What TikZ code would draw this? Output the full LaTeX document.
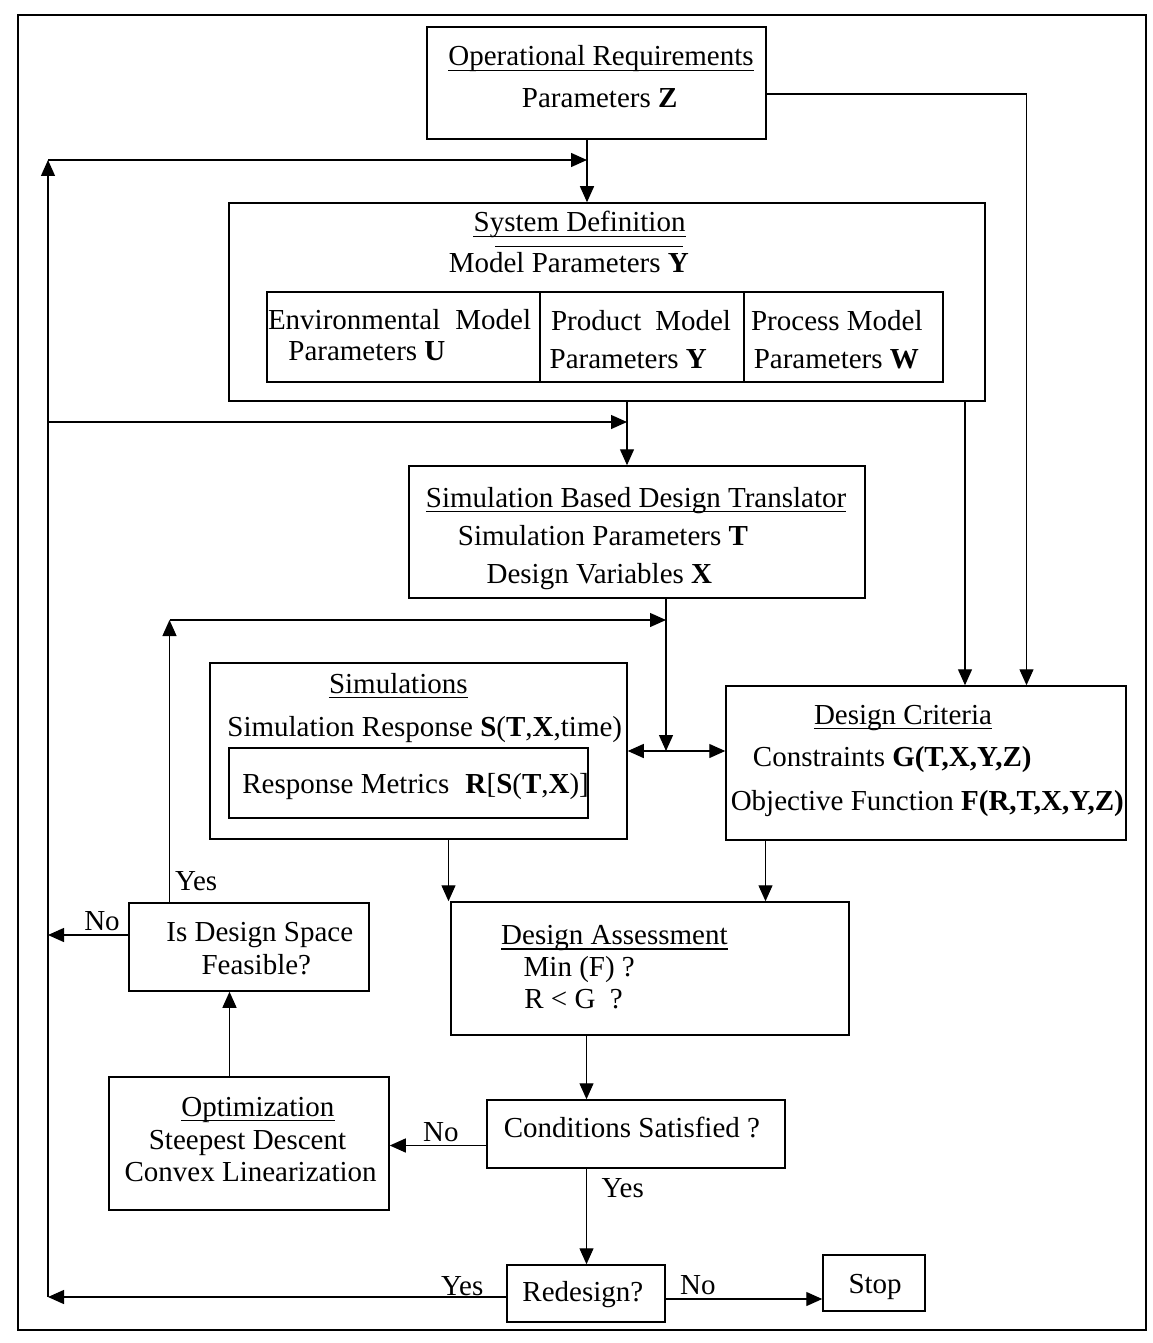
\documentclass[tikz,border=0pt]{standalone}
\usepackage{fontspec}
\setmainfont{Liberation Serif}
\usetikzlibrary{arrows.meta}
\begin{document}
\begin{tikzpicture}[x=1pt,y=-1pt,
  box/.style={draw, line width=1.5pt, inner sep=0pt},
  txt/.style={inner sep=0pt, font=\fontsize{29}{34}\selectfont},
  ln/.style={line width=1.4pt},
  ul/.style={line width=1.2pt},
  arr/.style={line width=1.3pt, -{Triangle[length=16pt,width=14pt]}},
  darr/.style={line width=1.3pt, {Triangle[length=16pt,width=14pt]}-{Triangle[length=16pt,width=14pt]}}]
\useasboundingbox (0,0) rectangle (1153,1343);
\fill[white] (0,0) rectangle (1153,1343);

% outer frame
\node[draw, line width=1.7pt, inner sep=0pt, minimum width=1128pt, minimum height=1315pt] (frame) at (582,672.5) {};

% boxes
\node[box, minimum width=339pt, minimum height=112pt] (opreq) at (596.5,83) {};
\node[box, minimum width=756pt, minimum height=198pt] (sysdef) at (607,302) {};
\node[box, minimum width=676pt, minimum height=90pt] (table) at (605,337) {};
\draw[ln] (table.north -| 540,0) -- (table.south -| 540,0);
\draw[ln] (table.north -| 744,0) -- (table.south -| 744,0);
\node[box, minimum width=456pt, minimum height=132pt] (sbdt) at (637,532) {};
\node[box, minimum width=417pt, minimum height=176pt] (sim) at (418.5,751) {};
\node[box, minimum width=359pt, minimum height=70pt] (resp) at (408.5,783) {};
\node[box, minimum width=400pt, minimum height=154pt] (crit) at (926,763) {};
\node[box, minimum width=240pt, minimum height=88pt] (isds) at (249,947) {};
\node[box, minimum width=398pt, minimum height=133pt] (assess) at (650,968.5) {};
\node[box, minimum width=280pt, minimum height=133pt] (optim) at (249,1143.5) {};
\node[box, minimum width=298pt, minimum height=68pt] (cond) at (636,1134) {};
\node[box, minimum width=158pt, minimum height=57pt] (redes) at (586,1293.5) {};
\node[box, minimum width=102pt, minimum height=56pt] (stop) at (874,1283) {};

% texts
\node[txt, anchor=base] (opreqT) at (601,66) {Operational Requirements};
\draw[ul] ([yshift=-4.5pt]opreqT.base west) -- ([yshift=-4.5pt]opreqT.base east);
\node[txt, anchor=base] (opreqP) at (599.7,108) {Parameters \textbf{Z}};

\node[txt, anchor=base] (sysT) at (579.6,231.5) {System Definition};
\draw[ul] ([yshift=-5pt]sysT.base west) -- ([yshift=-5pt]sysT.base east);
\draw[ul] ([xshift=22pt,yshift=-15pt]sysT.base west) -- ([xshift=-3pt,yshift=-15pt]sysT.base east);
\node[txt, anchor=base] (sysP) at (568.8,272) {Model Parameters \textbf{Y}};

\node[txt, anchor=base west] (env1) at (267.8,329) {Environmental\hspace{15pt}Model};
\node[txt, anchor=base west] (env2) at (288.2,360.5) {Parameters \textbf{U}};
\node[txt, anchor=base west] (prod1) at (550.9,330.3) {Product\hspace{14pt}Model};
\node[txt, anchor=base west] (prod2) at (549.5,368.5) {Parameters \textbf{Y}};
\node[txt, anchor=base west] (proc1) at (750.9,330) {Process Model};
\node[txt, anchor=base west] (proc2) at (753.6,368.4) {Parameters \textbf{W}};

\node[txt, anchor=base] (sbdtT) at (636.1,507) {Simulation Based Design Translator};
\draw[ul] ([yshift=-4.5pt]sbdtT.base west) -- ([yshift=-4.5pt]sbdtT.base east);
\node[txt, anchor=base west] (sbdtP) at (457.7,545.5) {Simulation Parameters \textbf{T}};
\node[txt, anchor=base west] (sbdtV) at (486.4,583) {Design Variables \textbf{X}};

\node[txt, anchor=base] (simT) at (398.3,693) {Simulations};
\draw[ul] ([yshift=-4.5pt]simT.base west) -- ([yshift=-4.5pt]simT.base east);
\node[txt, anchor=base west] (simR) at (227.2,736) {Simulation Response \textbf{S}(\textbf{T},\textbf{X},time)};
\node[txt, anchor=base west] (respT) at (242.2,793) {Response Metrics\hspace{16pt}\textbf{R}[\textbf{S}(\textbf{T},\textbf{X})]};

\node[txt, anchor=base] (critT) at (903,724) {Design Criteria};
\draw[ul] ([yshift=-4.5pt]critT.base west) -- ([yshift=-4.5pt]critT.base east);
\node[txt, anchor=base west] (critC) at (752.7,766) {Constraints \textbf{G(T,X,Y,Z)}};
\node[txt, anchor=base west] (critF) at (730.6,810.4) {Objective Function \textbf{F(R,T,X,Y,Z)}};

\node[txt, anchor=base west] (yes1) at (174.8,890) {Yes};
\node[txt, anchor=base] (isds1) at (259.8,941) {Is Design Space};
\node[txt, anchor=base] (isds2) at (256.3,974) {Feasible?};
\node[txt, anchor=base] (no1) at (102,930) {No};

\node[txt, anchor=base] (assT) at (614.4,944.4) {Design Assessment};
\draw[ul] ([yshift=-4.5pt]assT.base west) -- ([yshift=-4.5pt]assT.base east);
\node[txt, anchor=base west] (ass1) at (523.5,976.7) {Min (F) ?};
\node[txt, anchor=base west] (ass2) at (524.1,1008.5) {R < G\ \ ?};

\node[txt, anchor=base] (optT) at (257.9,1116) {Optimization};
\draw[ul] ([yshift=-4.5pt]optT.base west) -- ([yshift=-4.5pt]optT.base east);
\node[txt, anchor=base] (opt1) at (247.5,1149) {Steepest Descent};
\node[txt, anchor=base] (opt2) at (250.6,1181) {Convex Linearization};

\node[txt, anchor=base] (condT) at (631.9,1137.5) {Conditions Satisfied ?};
\node[txt, anchor=base] (no2) at (440.9,1141) {No};
\node[txt, anchor=base west] (yes2) at (601.5,1197.6) {Yes};
\node[txt, anchor=base] (redT) at (582.8,1301.7) {Redesign?};
\node[txt, anchor=base] (yes3) at (462.3,1295.6) {Yes};
\node[txt, anchor=base] (no3) at (697.9,1294.7) {No};
\node[txt, anchor=base] (stopT) at (875.1,1293) {Stop};

% junction coordinates
\coordinate (L1) at (48,160);
\coordinate (J1) at (587,160);
\coordinate (L3) at (48,422);
\coordinate (J2) at (627,422);
\coordinate (L2) at (48,935);
\coordinate (L0) at (48,1297);
\coordinate (R1) at (1026.5,94);
\coordinate (R2) at (965,401);
\coordinate (J3) at (666,751);
\coordinate (Y1) at (169.5,620);
\coordinate (Y2) at (666,620);
\coordinate (A1) at (448.5,870);
\coordinate (A2) at (765.5,870);
\coordinate (A3) at (586.5,1070);
\coordinate (N1) at (440,1145.5);
\coordinate (O1) at (229.5,1040);
\coordinate (S1) at (700,1299);

% connectors
\draw[arr] (opreq.south -| J1) -- (sysdef.north -| J1);
\draw[arr] (L0) -- (L1);
\draw[arr] (L1) -- (J1);
\draw[arr] (redes.west |- L0) -- (L0);
\draw[arr] (isds.west |- L2) -- (L2);
\draw[arr] (L3) -- (J2);
\draw[arr] (sysdef.south -| J2) -- (sbdt.north -| J2);
\draw[arr] (opreq.east |- R1) -- (R1) -- (crit.north -| R1);
\draw[arr] (sysdef.south -| R2) -- (crit.north -| R2);
\draw[arr] (sbdt.south -| J3) -- (J3);
\draw[darr] (sim.east |- J3) -- (crit.west |- J3);
\draw[arr] (isds.north -| Y1) -- (Y1);
\draw[arr] (Y1) -- (Y2);
\draw[arr] (sim.south -| A1) -- (assess.north -| A1);
\draw[arr] (crit.south -| A2) -- (assess.north -| A2);
\draw[arr] (assess.south -| A3) -- (cond.north -| A3);
\draw[arr] (cond.west |- N1) -- (optim.east |- N1);
\draw[arr] (optim.north -| O1) -- (isds.south -| O1);
\draw[arr] (cond.south -| A3) -- (redes.north -| A3);
\draw[arr] (redes.east |- S1) -- (stop.west |- S1);
\end{tikzpicture}
\end{document}
